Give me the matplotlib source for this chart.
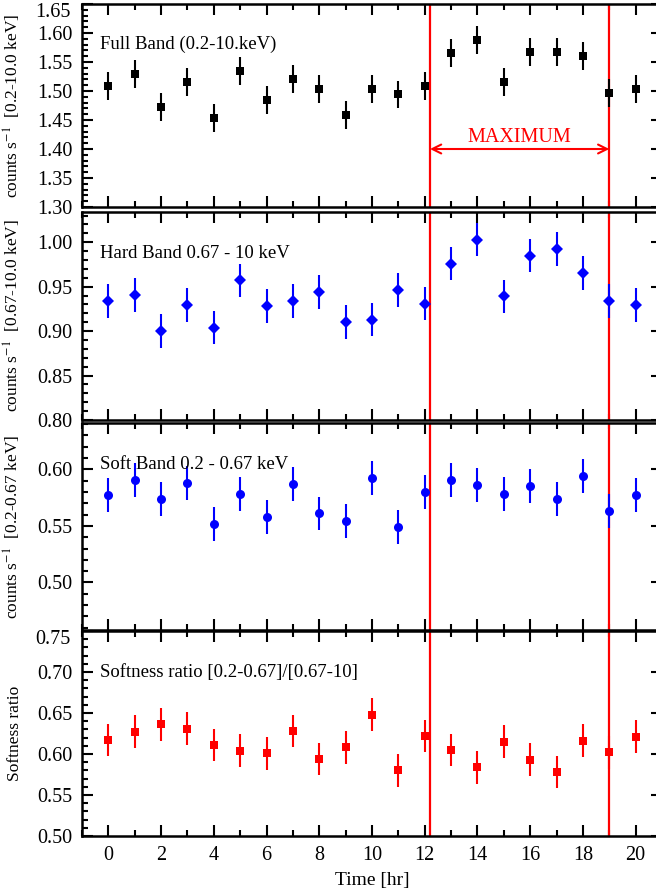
import matplotlib
matplotlib.use("Agg")
import matplotlib.pyplot as plt
from matplotlib.ticker import MultipleLocator, FuncFormatter
from matplotlib.transforms import blended_transform_factory

plt.rcParams['font.family'] = ['Liberation Serif', 'DejaVu Serif']
plt.rcParams['mathtext.fontset'] = 'stix'

time_hr = list(range(21))

full_rate = [1.508, 1.529, 1.472, 1.515, 1.454, 1.534, 1.484, 1.520, 1.503, 1.459, 1.503,
             1.494, 1.509, 1.565, 1.588, 1.516, 1.567, 1.567, 1.561, 1.497, 1.503]
full_err = [0.024] * 21

hard_rate = [0.934, 0.941, 0.900, 0.929, 0.904, 0.957, 0.928, 0.934, 0.944, 0.910, 0.913,
             0.946, 0.931, 0.976, 1.003, 0.939, 0.985, 0.992, 0.965, 0.934, 0.929]
hard_err = [0.019] * 21

soft_rate = [0.577, 0.591, 0.574, 0.588, 0.552, 0.578, 0.558, 0.587, 0.561, 0.554, 0.592,
             0.549, 0.580, 0.591, 0.586, 0.578, 0.585, 0.574, 0.594, 0.563, 0.577]
soft_err = [0.015] * 21

ratio = [0.617, 0.627, 0.636, 0.631, 0.611, 0.604, 0.601, 0.628, 0.594, 0.608, 0.648,
         0.580, 0.622, 0.605, 0.584, 0.615, 0.593, 0.578, 0.616, 0.602, 0.621]
ratio_err = [0.020] * 21

max_start, max_end = 12.2, 19.0

panel_labels = ["Full Band (0.2-10.keV)", "Hard Band 0.67 - 10 keV",
                "Soft Band 0.2 - 0.67 keV", "Softness ratio [0.2-0.67]/[0.67-10]"]
ylabels = [r"counts s$^{-1}$  [0.2-10.0 keV]", r"counts s$^{-1}$  [0.67-10.0 keV]",
           r"counts s$^{-1}$  [0.2-0.67 keV]", "Softness ratio"]
ylims = [(1.30, 1.65), (0.80, 1.034), (0.458, 0.641), (0.50, 0.75)]

W, H = 656, 890
fig = plt.figure(figsize=(W / 100, H / 100), dpi=100)

# pixel extents (top, bottom) of each panel
px = [(4, 207), (212, 420), (423, 630), (631, 836)]
left_px, right_px = 82, 662

series = [
    (full_rate, full_err, 's', 'black', 6),
    (hard_rate, hard_err, 'D', 'blue', 6.5),
    (soft_rate, soft_err, 'o', 'blue', 6.5),
    (ratio, ratio_err, 's', 'red', 6),
]

TICK_FS = 14.5
PAD = 7


def make_fmt(top):
    def f(v, pos):
        if abs(v - top) < 1e-6:
            return ''
        return '%.2f' % v
    return f


axes = []
for i, (top, bot) in enumerate(px):
    ax = fig.add_axes([left_px / W, 1 - bot / H, (right_px - left_px) / W, (bot - top) / H])
    axes.append(ax)
    vals, errs, mk, col, ms = series[i]
    ax.errorbar(time_hr, vals, yerr=errs, fmt=mk, color=col, ms=ms, mew=0,
                elinewidth=1.5, capsize=1.5, capthick=1.2, zorder=3)
    ax.axvline(max_start, color='red', lw=1.6, zorder=2)
    ax.axvline(max_end, color='red', lw=1.6, zorder=2)
    ax.set_xlim(-1, 21)
    ax.set_ylim(*ylims[i])
    ax.xaxis.set_major_locator(MultipleLocator(2))
    ax.xaxis.set_minor_locator(MultipleLocator(1))
    ax.yaxis.set_major_locator(MultipleLocator(0.05))
    ax.yaxis.set_minor_locator(MultipleLocator(0.01))
    ax.yaxis.set_major_formatter(FuncFormatter(make_fmt(ylims[i][1])))
    ax.tick_params(which='both', direction='in', top=True, right=True, width=1.5,
                   labelsize=TICK_FS, colors='black')
    ax.tick_params(which='major', length=8, pad=PAD)
    ax.tick_params(which='minor', length=4.5)
    for sp in ax.spines.values():
        sp.set_linewidth(1.8)
    ax.set_ylabel(ylabels[i], fontsize=12.5)
    ax.yaxis.set_label_coords(-0.101, 0.5)
    ax.text(0.031, 0.80, panel_labels[i], transform=ax.transAxes, fontsize=13.5,
            ha='left', va='center', zorder=4)
    if i < 3:
        ax.tick_params(labelbottom=False)
    # top tick label shifted down so it stays inside the figure
    ytop = ylims[i][1]
    if abs(round(ytop / 0.05) * 0.05 - ytop) < 1e-6:
        tr = blended_transform_factory(ax.transAxes, ax.transData)
        ax.annotate('%.2f' % ytop, xy=(0, ytop), xycoords=tr,
                    xytext=(-PAD - 1, -6), textcoords='offset points',
                    ha='right', va='center', fontsize=TICK_FS, annotation_clip=False)

# MAXIMUM arrow
ax0 = axes[0]
ax0.annotate('', xy=(max_start, 1.40), xytext=(max_end, 1.40),
             arrowprops=dict(arrowstyle='<->', color='red', lw=1.5, mutation_scale=16,
                             shrinkA=0, shrinkB=0))
ax0.text((max_start + max_end) / 2, 1.403, 'MAXIMUM', color='red', fontsize=14.5,
         ha='center', va='bottom')

axes[3].set_xlabel('Time [hr]', fontsize=14)
axes[3].xaxis.labelpad = 5

fig.savefig('out.png', dpi=100)
